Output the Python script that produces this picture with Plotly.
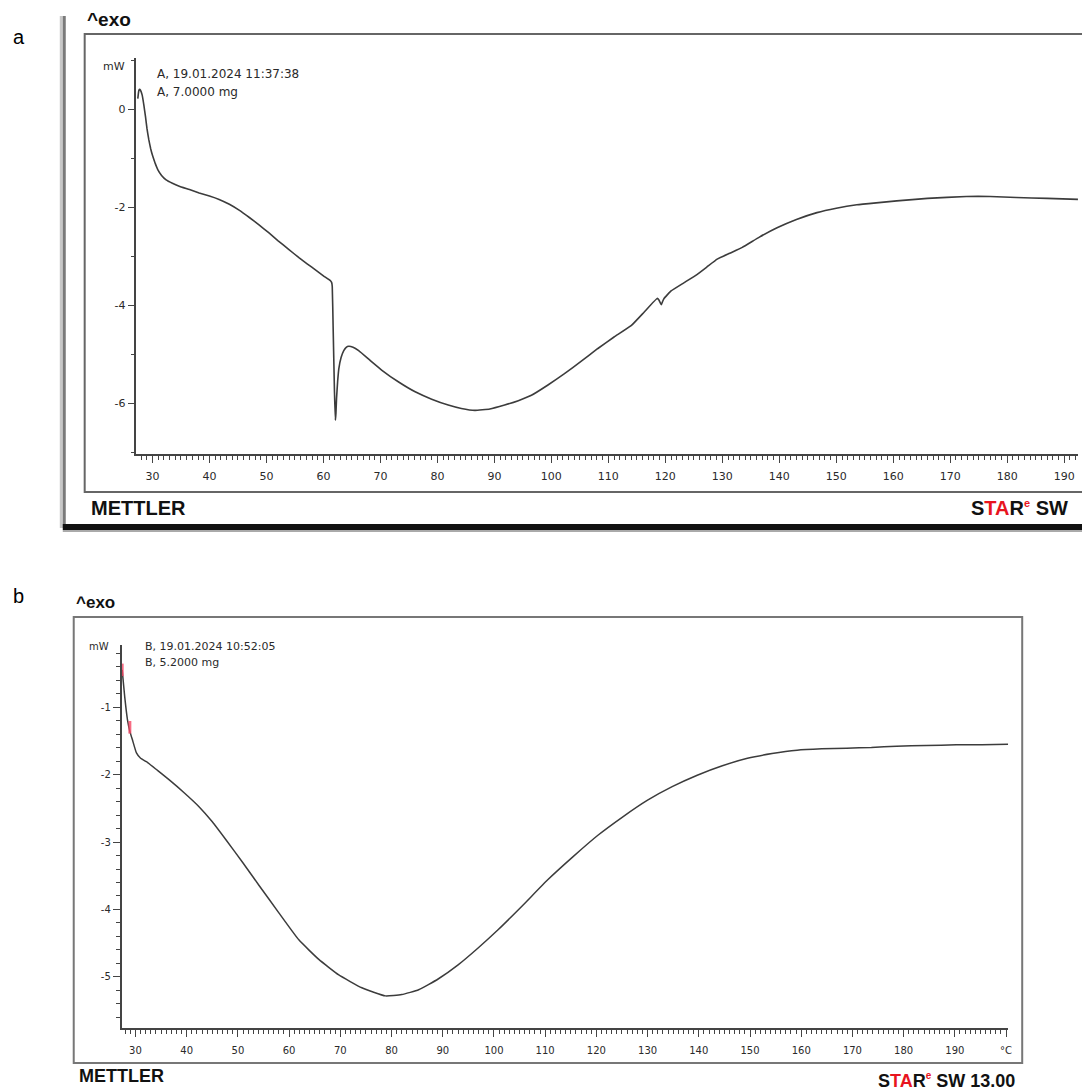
import plotly.graph_objects as go

W, H = 1082, 1091

# ---------------- data ----------------
# Panel a: sample A, 7.0000 mg  (temperature in degC, heat flow in mW)
temp_a = [27.43, 27.6, 27.73, 27.9, 28.2, 28.5, 28.78, 29.05, 29.36, 29.7, 30.06, 30.5, 30.93, 31.6,
          32.4, 33.5, 34.7, 36.5, 38.2, 40.0, 41.7, 43.5, 45.2, 47.0, 48.7, 50.4, 52.0, 53.9, 55.7,
          57.2, 58.6, 60.0, 61.24, 61.45, 61.55, 61.7, 61.94, 62.1, 62.2, 62.3, 62.5, 62.7, 63.1,
          63.57, 64.0, 64.44, 65.2, 66.19, 68.2, 70.27, 73.2, 76.1, 79.0, 81.9, 84.2, 86.6, 89.2,
          91.8, 94.2, 96.5, 99.4, 102.3, 105.2, 108.1, 111.0, 114.0, 116.3, 118.6, 118.9, 119.3,
          119.5, 119.8, 121.0, 123.3, 125.6, 127.3, 129.1, 131.3, 133.5, 136.5, 139.6, 143.0, 146.6,
          150.0, 153.6, 157.0, 160.6, 166.0, 172.8, 177.0, 181.6, 187.0, 192.4]
heat_a = [0.22, 0.38, 0.41, 0.39, 0.29, 0.08, -0.15, -0.40, -0.62, -0.81, -0.96, -1.11, -1.23, -1.35,
          -1.44, -1.51, -1.57, -1.64, -1.71, -1.77, -1.84, -1.94, -2.06, -2.21, -2.36, -2.52, -2.68,
          -2.86, -3.03, -3.16, -3.28, -3.40, -3.50, -3.54, -3.62, -4.42, -5.77, -6.35, -6.20, -5.91,
          -5.55, -5.30, -5.07, -4.93, -4.86, -4.84, -4.86, -4.93, -5.13, -5.33, -5.57, -5.77, -5.92,
          -6.04, -6.11, -6.15, -6.12, -6.04, -5.95, -5.84, -5.63, -5.40, -5.15, -4.89, -4.65, -4.42,
          -4.14, -3.86, -3.90, -3.99, -3.93, -3.86, -3.71, -3.54, -3.37, -3.22, -3.06, -2.94, -2.82,
          -2.61, -2.42, -2.25, -2.11, -2.02, -1.95, -1.91, -1.87, -1.82, -1.78, -1.78, -1.80, -1.82,
          -1.84]

# Panel b: sample B, 5.2000 mg
temp_b = [27.4, 27.9, 28.44, 28.9, 29.42, 30.19, 31.0, 32.14, 34.3, 36.6, 39.5, 42.45, 45.0, 47.7,
          50.9, 54.1, 58.0, 61.9, 65.8, 69.7, 74.2, 78.8, 82.0, 85.3, 89.1, 93.0, 96.9, 100.8, 105.6,
          110.5, 115.4, 120.3, 125.1, 130.0, 134.8, 139.7, 144.6, 149.5, 154.3, 159.2, 164.0, 168.9,
          173.7, 178.6, 184.4, 190.3, 195.3, 200.4]
heat_b = [-0.45, -0.85, -1.19, -1.36, -1.49, -1.68, -1.76, -1.81, -1.94, -2.08, -2.27, -2.48, -2.70,
          -2.97, -3.30, -3.64, -4.05, -4.45, -4.74, -4.97, -5.16, -5.28, -5.26, -5.19, -5.03, -4.82,
          -4.57, -4.30, -3.94, -3.56, -3.22, -2.90, -2.63, -2.38, -2.18, -2.01, -1.87, -1.76, -1.69,
          -1.64, -1.62, -1.61, -1.60, -1.58, -1.57, -1.56, -1.56, -1.55]

# evaluation limit marks on curve b
limit_temp_b = [27.4, 28.9]
limit_heat_b = [-0.45, -1.30]

xtick_vals = list(range(30, 201, 10))
xtick_text = [str(v) for v in xtick_vals[:-1]] + ["°C"]
ytick_a = [-6, -4, -2, 0]
ytick_b = [-5, -4, -3, -2, -1]


def fx(p):
    return p / W


def fy(p):
    return 1 - p / H


AX = "#444444"
TXT = "#2a2a2a"
CURVE = "#3c3c3c"
TICKFONT = "DejaVu Sans"
RED = "#e8141e"

fig = go.Figure()
fig.add_trace(go.Scatter(x=temp_a, y=heat_a, mode="lines",
                         line=dict(color=CURVE, width=1.6, shape="spline", smoothing=0.3),
                         xaxis="x", yaxis="y", showlegend=False, hoverinfo="skip"))
fig.add_trace(go.Scatter(x=temp_b, y=heat_b, mode="lines",
                         line=dict(color=CURVE, width=1.5, shape="spline", smoothing=0.4),
                         xaxis="x2", yaxis="y2", showlegend=False, hoverinfo="skip"))
fig.add_trace(go.Scatter(x=limit_temp_b, y=limit_heat_b, mode="markers",
                         marker=dict(symbol="line-ns-open", size=9, color="rgba(245,70,100,0.8)",
                                     line=dict(color="rgba(245,70,100,0.8)", width=3)),
                         xaxis="x2", yaxis="y2", showlegend=False, hoverinfo="skip", cliponaxis=False))

common_x = dict(showline=True, linecolor=AX, linewidth=1.5, ticks="outside", ticklen=7, tickwidth=1.2,
                tickcolor=AX, showgrid=False, zeroline=False, tickmode="array",
                tickvals=xtick_vals, ticktext=xtick_text,
                minor=dict(ticks="outside", ticklen=4, tickwidth=1, tickcolor=AX, dtick=1, tick0=0, showgrid=False))
common_y = dict(showline=True, linecolor=AX, linewidth=1.5, ticks="outside", ticklen=7, tickwidth=1.2,
                tickcolor=AX, showgrid=False, zeroline=False, tickmode="array")

fig.update_layout(
    width=W, height=H, margin=dict(l=0, r=0, t=0, b=0),
    paper_bgcolor="white", plot_bgcolor="rgba(0,0,0,0)",
    xaxis=dict(common_x, domain=[fx(137), 1.0], range=[27.2, 192.41], anchor="y",
               tickfont=dict(family=TICKFONT, size=11, color=TXT), ticklabelstandoff=4),
    yaxis=dict(common_y, domain=[fy(454), fy(58)], range=[-7.04, 1.048], anchor="x",
               tickvals=ytick_a, ticktext=[str(v) for v in ytick_a],
               tickfont=dict(family=TICKFONT, size=11, color=TXT),
               minor=dict(ticks="outside", ticklen=4, tickwidth=1, tickcolor=AX, dtick=1, tick0=0, showgrid=False)),
    xaxis2=dict(common_x, domain=[fx(122), fx(1012)], range=[27.28, 200.43], anchor="y2",
                tickfont=dict(family=TICKFONT, size=10, color=TXT), ticklabelstandoff=5),
    yaxis2=dict(common_y, domain=[fy(1028), fy(645)], range=[-5.756, -0.081], anchor="x2",
                tickvals=ytick_b, ticktext=[str(v) for v in ytick_b],
                tickfont=dict(family=TICKFONT, size=10, color=TXT),
                minor=dict(ticks="outside", ticklen=4, tickwidth=1, tickcolor=AX, dtick=0.2, tick0=0, showgrid=False)),
)

shapes = [
    # panel a screenshot shadow
    dict(type="rect", xref="paper", yref="paper", x0=fx(60), x1=fx(63), y0=fy(528), y1=fy(16),
         fillcolor="#c8c8c8", line=dict(width=0), layer="below"),
    dict(type="rect", xref="paper", yref="paper", x0=fx(63), x1=fx(66), y0=fy(528), y1=fy(16),
         fillcolor="#7a7a7a", line=dict(width=0), layer="below"),
    dict(type="rect", xref="paper", yref="paper", x0=fx(63), x1=fx(1090), y0=fy(530), y1=fy(524),
         fillcolor="#111111", line=dict(width=0), layer="below"),
    dict(type="rect", xref="paper", yref="paper", x0=fx(63), x1=fx(1090), y0=fy(532), y1=fy(530),
         fillcolor="#aaaaaa", line=dict(width=0), layer="below"),
    # panel a frame
    dict(type="rect", xref="paper", yref="paper", x0=fx(85), x1=fx(1095), y0=fy(492), y1=fy(34),
         line=dict(color="#666666", width=2), fillcolor="rgba(0,0,0,0)", layer="below"),
    # panel b frame
    dict(type="rect", xref="paper", yref="paper", x0=fx(74), x1=fx(1026), y0=fy(1063), y1=fy(617),
         line=dict(color="#777777", width=2), fillcolor="rgba(0,0,0,0)", layer="below"),
]
fig.update_layout(shapes=shapes)


def star(size):
    return ('S<span style="color:%s">TA</span>R<sup><span style="color:%s;font-size:%dpx">e</span></sup> SW'
            % (RED, RED, size))


def ann(text, x, y, size, xanchor="left", family=TICKFONT, color=TXT, bold=False, yanchor="middle"):
    if bold:
        text = "<b>" + text + "</b>"
    return dict(text=text, x=fx(x), y=fy(y), xref="paper", yref="paper", showarrow=False,
                xanchor=xanchor, yanchor=yanchor, font=dict(family=family, size=size, color=color))


annotations = [
    ann("a", 11, 37, 20, family="Liberation Sans", color="black"),
    ann("b", 11, 596, 20, family="Liberation Sans", color="black"),
    ann("^exo", 85, 19, 19, family="Liberation Sans", color="#111111", bold=True),
    ann("^exo", 74, 603, 17, family="Liberation Sans", color="#111111", bold=True),
    ann("mW", 127, 66, 11, xanchor="right"),
    ann("A, 19.01.2024 11:37:38", 156, 74, 12),
    ann("A, 7.0000 mg", 156, 92, 12),
    ann("mW", 111, 646, 10, xanchor="right"),
    ann("B, 19.01.2024 10:52:05", 144, 646, 11),
    ann("B, 5.2000 mg", 144, 662, 11),
    ann("METTLER", 89, 508, 20, family="Liberation Sans", color="#111111", bold=True),
    ann(star(11), 973, 508, 20, family="Liberation Sans", color="#111111", bold=True),
    ann("METTLER", 77, 1076, 18, family="Liberation Sans", color="#111111", bold=True),
    ann(star(10) + " 13.00", 1021, 1080, 18, xanchor="right", family="Liberation Sans",
        color="#111111", bold=True),
]
fig.update_layout(annotations=annotations)

fig.write_html("out.html", config={"displayModeBar": False},
               post_script="document.body.style.margin='0';document.body.style.overflow='hidden';")
